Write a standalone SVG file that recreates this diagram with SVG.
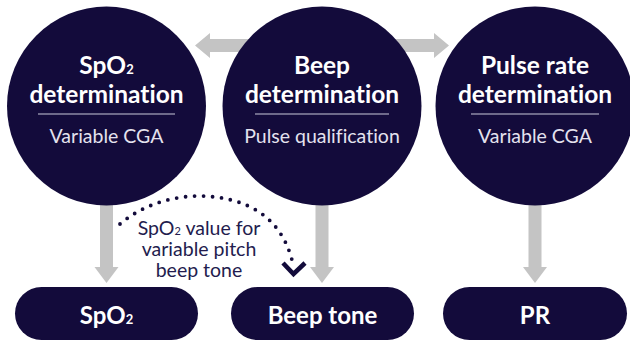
<svg xmlns="http://www.w3.org/2000/svg" width="630" height="342" viewBox="0 0 630 342">
  <defs>
    <style>
      text { font-variant-ligatures: none; font-feature-settings: "liga" 0, "dlig" 0; }
      .node { fill: #130b3b; }
      .flow { fill: #c4c4c4; }
      .title { font-family: Lato, "Open Sans", sans-serif; font-weight: 700; font-size: 24.5px; fill: #ffffff; text-anchor: middle; }
      .sub { font-family: Lato, "Open Sans", sans-serif; font-weight: 400; font-size: 19.5px; fill: #e4e2ee; text-anchor: middle; }
      .rule { stroke: #6e6a8a; stroke-width: 2; }
      .pill { font-family: Lato, "Open Sans", sans-serif; font-weight: 700; font-size: 24px; fill: #ffffff; text-anchor: middle; }
      .note { font-family: Lato, "Open Sans", sans-serif; font-weight: 400; font-size: 19.5px; fill: #231c4e; text-anchor: middle; }
      .dots { fill: none; stroke: #130b3b; stroke-width: 3.8; stroke-linecap: round; stroke-dasharray: 0 9; }
      .chev { fill: none; stroke: #130b3b; stroke-width: 4.5; stroke-linejoin: miter; }
    </style>
  </defs>

  <!-- grey flow arrows, drawn beneath the nodes -->
  <g id="connectors">
    <path class="flow" d="M195,45.5 L210,33 L210,39 L260,39 L260,52 L210,52 L210,58 Z"/>
    <path class="flow" d="M449,45.5 L434,33 L434,39 L384,39 L384,52 L434,52 L434,58 Z"/>
    <path class="flow" d="M106.5,283 L94.5,267 L100,267 L100,190 L113,190 L113,267 L118.5,267 Z"/>
    <path class="flow" d="M322,283 L310,267 L315.5,267 L315.5,190 L328.5,190 L328.5,267 L334,267 Z"/>
    <path class="flow" d="M535,283 L523,267 L528.5,267 L528.5,190 L541.5,190 L541.5,267 L547,267 Z"/>
    <!-- dotted hand-off from SpO2 to beep tone -->
    <path class="dots" d="M120,224 C145,203 175,196 200,196 C245,197 280,215 292,260"/>
    <path class="chev" d="M283,263 L293.5,274 L305,263"/>
  </g>

  <g id="spo2-determination">
    <circle class="node" cx="106.5" cy="106" r="99.5"/>
    <text class="title" x="106.5" y="74">SpO<tspan font-size="13">2</tspan></text>
    <text class="title" x="106.5" y="103">determination</text>
    <line class="rule" x1="38" y1="114" x2="175" y2="114"/>
    <text class="sub" x="106.5" y="143">Variable CGA</text>
  </g>

  <g id="beep-determination">
    <circle class="node" cx="322" cy="106" r="99.5"/>
    <text class="title" x="322" y="74">Beep</text>
    <text class="title" x="322" y="103">determination</text>
    <line class="rule" x1="255" y1="114" x2="389" y2="114"/>
    <text class="sub" x="322" y="143">Pulse qualification</text>
  </g>

  <g id="pulse-rate-determination">
    <circle class="node" cx="535" cy="106" r="99.5"/>
    <text class="title" x="535" y="74">Pulse rate</text>
    <text class="title" x="535" y="103">determination</text>
    <line class="rule" x1="471" y1="114" x2="599" y2="114"/>
    <text class="sub" x="535" y="143">Variable CGA</text>
  </g>

  <g id="spo2-output">
    <rect class="node" x="15" y="287" width="183" height="53" rx="26.5"/>
    <text class="pill" x="106.5" y="324">SpO<tspan font-size="13">2</tspan></text>
  </g>

  <g id="beep-tone-output">
    <rect class="node" x="231" y="287" width="183" height="53" rx="26.5"/>
    <text class="pill" x="322.5" y="324">Beep tone</text>
  </g>

  <g id="pr-output">
    <rect class="node" x="443" y="287" width="184" height="53" rx="26.5"/>
    <text class="pill" x="535" y="324">PR</text>
  </g>

  <g id="hand-off-label">
    <text class="note" x="199" y="235">SpO<tspan font-size="11">2</tspan> value for</text>
    <text class="note" x="199" y="256">variable pitch</text>
    <text class="note" x="199" y="277">beep tone</text>
  </g>
</svg>
